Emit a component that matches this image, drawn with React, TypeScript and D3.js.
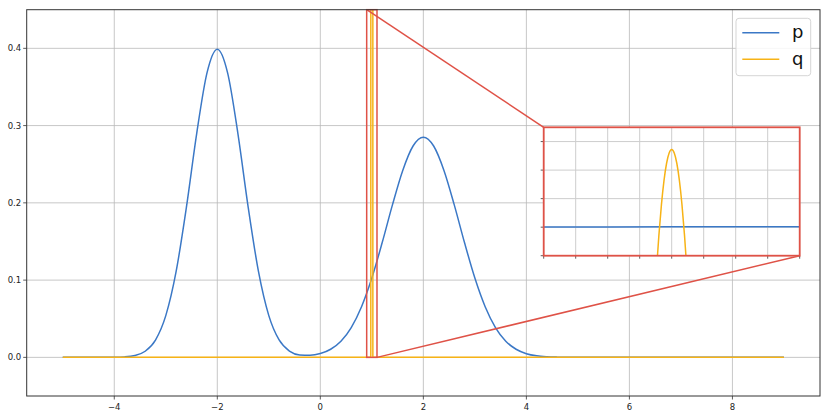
import * as d3 from 'd3';

// main axes data (p = blue, q = orange)
const P_X = [
	-5, -4.8, -4.6, -4.4, -4.2, -4, -3.8, -3.6, -3.4, -3.2, -3, -2.8, -2.6, -2.4, -2.2, -2, -1.8, -1.6, -1.4, -1.2,
	-1, -0.8, -0.6, -0.4, -0.2, 0, 0.2, 0.4, 0.6, 0.8, 1, 1.2, 1.4, 1.6, 1.8, 2, 2.2, 2.4, 2.6, 2.8, 3, 3.2, 3.4,
	3.6, 3.8, 4, 4.2, 4.4, 4.6, 4.8, 5, 6, 7, 8, 9,
];
const P_Y = [
	0, 0, 0, 0.000004, 0.000025, 0.00013, 0.00061, 0.0024, 0.0079, 0.0224, 0.054, 0.1109, 0.1942, 0.2897, 0.3683,
	0.3989, 0.3683, 0.2897, 0.1942, 0.1109, 0.054, 0.0225, 0.0082, 0.0032, 0.0027, 0.0049, 0.0105, 0.0209, 0.0386,
	0.0656, 0.1027, 0.1483, 0.1974, 0.242, 0.2736, 0.285, 0.2736, 0.242, 0.1974, 0.1483, 0.1027, 0.0656, 0.0386,
	0.0209, 0.0105, 0.0048, 0.002, 0.0008, 0.0003, 0.0001, 0, 0, 0, 0, 0,
];
const Q_X = [-5, 0.98, 1.0, 1.02, 9];
const Q_Y = [0, 0, 27.2, 0, 0];

const X_TICKS = [-4, -2, 0, 2, 4, 6, 8];
const Y_TICKS = [0, 0.1, 0.2, 0.3, 0.4];
const LEGEND = ['p', 'q'];

// zoomed inset data
const ZOOM_X_TICKS = [0.9, 0.925, 0.95, 0.975, 1.0, 1.025, 1.05, 1.075, 1.1];
const ZOOM_Y_TICKS = [-10, 0, 10, 20, 30];
const ZOOM_P_X = [0.9, 1.0, 1.1];
const ZOOM_P_Y = [0.083, 0.103, 0.125];
const ZOOM_Q_X = [0.9885, 0.99, 0.992, 0.994, 0.996, 0.998, 1.0, 1.002, 1.004, 1.006, 1.008, 1.01, 1.0115];
const ZOOM_Q_Y = [-12.5, -2.8, 8.0, 16.4, 22.4, 26.0, 27.2, 26.0, 22.4, 16.4, 8.0, -2.8, -12.5];

const BLUE = '#3b78c6';
const ORANGE = '#f7b316';
const RED = '#df5247';
const GRID = '#b9b9b9';
const FONT = 'DejaVu Sans, sans-serif';

const W = 830;
const H = 418;
const plot = { left: 26.7, right: 820, top: 9.7, bottom: 396 };
const inset = { left: 543.7, right: 799.7, top: 127.3, bottom: 255.7 };

export default function App() {
	const x = d3.scaleLinear().domain([-5.7, 9.7]).range([plot.left, plot.right]);
	const y = d3.scaleLinear().domain([-0.05, 0.45]).range([plot.bottom, plot.top]);

	const zx = d3.scaleLinear().domain([0.9, 1.1]).range([inset.left, inset.right]);
	const zy = d3.scaleLinear().domain([-10, 35]).range([inset.bottom, inset.top]);

	const mainLine = (xs: number[], ys: number[], curve: d3.CurveFactory) =>
		d3
			.line<number>()
			.x((_, i) => x(xs[i]))
			.y((v) => y(v))
			.curve(curve)(ys) || '';

	const zoomLine = (xs: number[], ys: number[]) =>
		d3
			.line<number>()
			.x((_, i) => zx(xs[i]))
			.y((v) => zy(v))
			.curve(d3.curveMonotoneX)(ys) || '';

	// rectangle marking the zoomed region
	const rx0 = x(0.9);
	const rx1 = x(1.1);
	const ry0 = y(0.45);
	const ry1 = y(0);

	return (
		<div style={{ position: 'absolute', left: 0, top: 0, width: W, height: H, background: '#fff' }}>
			<svg width={W} height={H} style={{ display: 'block' }}>
				<defs>
					<clipPath id="plotClip">
						<rect x={plot.left} y={plot.top} width={plot.right - plot.left} height={plot.bottom - plot.top} />
					</clipPath>
					<clipPath id="insetClip">
						<rect x={inset.left} y={inset.top} width={inset.right - inset.left} height={inset.bottom - inset.top} />
					</clipPath>
				</defs>

				{/* grid */}
				<g stroke={GRID} strokeWidth={0.8}>
					{X_TICKS.map((t) => (
						<line key={'gx' + t} x1={x(t)} x2={x(t)} y1={plot.top} y2={plot.bottom} />
					))}
					{Y_TICKS.map((t) => (
						<line key={'gy' + t} x1={plot.left} x2={plot.right} y1={y(t)} y2={y(t)} />
					))}
				</g>

				{/* curves */}
				<g clipPath="url(#plotClip)" fill="none" strokeWidth={1.5} strokeLinejoin="round">
					<path d={mainLine(P_X, P_Y, d3.curveMonotoneX)} stroke={BLUE} />
					<path d={mainLine(Q_X, Q_Y, d3.curveLinear)} stroke={ORANGE} />
				</g>

				{/* zoom indicator */}
				<g fill="none" stroke={RED} strokeWidth={1.5}>
					<rect x={rx0} y={ry0} width={rx1 - rx0} height={ry1 - ry0} />
					<line x1={rx0} y1={ry0} x2={inset.left} y2={inset.top} />
					<line x1={rx1} y1={ry1} x2={inset.right} y2={inset.bottom} />
				</g>

				{/* axes frame and ticks */}
				<rect
					x={plot.left}
					y={plot.top}
					width={plot.right - plot.left}
					height={plot.bottom - plot.top}
					fill="none"
					stroke="#333"
					strokeWidth={1}
				/>
				<g fontFamily={FONT} fontSize={8.5} fill="#222">
					{X_TICKS.map((t) => (
						<g key={'tx' + t}>
							<line x1={x(t)} x2={x(t)} y1={plot.bottom} y2={plot.bottom + 3.5} stroke="#333" strokeWidth={0.8} />
							<text x={x(t)} y={plot.bottom + 13.5} textAnchor="middle">
								{t < 0 ? '\u2212' + Math.abs(t) : String(t)}
							</text>
						</g>
					))}
					{Y_TICKS.map((t) => (
						<g key={'ty' + t}>
							<line x1={plot.left - 3.5} x2={plot.left} y1={y(t)} y2={y(t)} stroke="#333" strokeWidth={0.8} />
							<text x={plot.left - 5.5} y={y(t) + 3} textAnchor="end">
								{t.toFixed(1)}
							</text>
						</g>
					))}
				</g>

				{/* inset axes */}
				<g>
					<rect
						x={inset.left}
						y={inset.top}
						width={inset.right - inset.left}
						height={inset.bottom - inset.top}
						fill="#fff"
					/>
					<g stroke="#cdcdcd" strokeWidth={1}>
						{ZOOM_X_TICKS.map((t) => (
							<line key={'zgx' + t} x1={zx(t)} x2={zx(t)} y1={inset.top} y2={inset.bottom} />
						))}
						{ZOOM_Y_TICKS.map((t) => (
							<line key={'zgy' + t} x1={inset.left} x2={inset.right} y1={zy(t)} y2={zy(t)} />
						))}
					</g>
					<g clipPath="url(#insetClip)" fill="none" strokeWidth={1.5}>
						<path d={zoomLine(ZOOM_P_X, ZOOM_P_Y)} stroke={BLUE} />
						<path d={zoomLine(ZOOM_Q_X, ZOOM_Q_Y)} stroke={ORANGE} />
					</g>
					<g stroke="#333" strokeWidth={0.8}>
						{ZOOM_X_TICKS.map((t) => (
							<line key={'ztx' + t} x1={zx(t)} x2={zx(t)} y1={inset.bottom} y2={inset.bottom + 3} />
						))}
						{ZOOM_Y_TICKS.map((t) => (
							<line key={'zty' + t} x1={inset.left - 3} x2={inset.left} y1={zy(t)} y2={zy(t)} />
						))}
					</g>
					<rect
						x={inset.left}
						y={inset.top}
						width={inset.right - inset.left}
						height={inset.bottom - inset.top}
						fill="none"
						stroke={RED}
						strokeWidth={1.8}
					/>
				</g>

				{/* legend */}
				<g fontFamily={FONT}>
					<rect x={736} y={18.3} width={74.7} height={57.4} rx={3} fill="#fff" fillOpacity={0.85} stroke="#d5d5d5" strokeWidth={1} />
					{LEGEND.map((name, i) => {
						const ly = 32.7 + i * 26.6;
						return (
							<g key={name}>
								<line x1={742.3} x2={779.3} y1={ly} y2={ly} stroke={i === 0 ? BLUE : ORANGE} strokeWidth={1.5} />
								<text x={792} y={ly + 5.5} fontSize={18} fill="#111">
									{name}
								</text>
							</g>
						);
					})}
				</g>
			</svg>
		</div>
	);
}
